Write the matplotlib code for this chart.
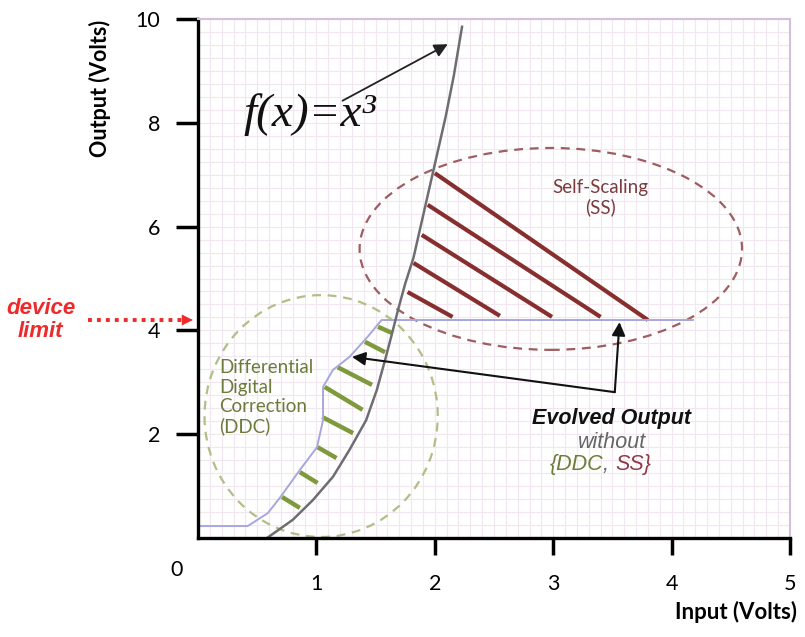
import matplotlib.pyplot as plt
import numpy as np
from matplotlib.patches import Ellipse

# f(x)=x^3 curve as drawn (hand sketched)
curve_x = [0.583, 0.80, 0.97, 1.14, 1.28, 1.42, 1.51, 1.58, 1.64, 1.69, 1.75, 1.82,
           1.88, 1.95, 2.02, 2.09, 2.16, 2.23]
curve_y = [0.0, 0.35, 0.73, 1.18, 1.70, 2.27, 2.85, 3.43, 3.95, 4.40, 4.90, 5.40,
           6.00, 6.70, 7.40, 8.10, 8.90, 9.85]

# evolved output without DDC / SS
evolved_x = [0.0, 0.42, 0.59, 0.69, 0.86, 1.005, 1.056, 1.056, 1.14, 1.28, 1.43, 1.55, 4.18]
evolved_y = [0.23, 0.23, 0.48, 0.77, 1.31, 1.75, 2.27, 2.91, 3.24, 3.49, 3.87, 4.20, 4.20]

device_limit = 4.2

# hatch segments (x0, y0, x1, y1)
ddc_segments = [
    (1.52, 4.07, 1.64, 3.95),
    (1.41, 3.78, 1.58, 3.58),
    (1.18, 3.29, 1.47, 2.95),
    (1.07, 2.91, 1.39, 2.47),
    (1.05, 2.33, 1.31, 2.02),
    (1.01, 1.75, 1.17, 1.54),
    (0.86, 1.27, 1.01, 1.06),
    (0.71, 0.79, 0.86, 0.58),
]
ss_segments = [
    (2.00, 7.03, 3.80, 4.20),
    (1.94, 6.42, 3.40, 4.26),
    (1.89, 5.84, 2.99, 4.26),
    (1.82, 5.30, 2.55, 4.28),
    (1.77, 4.74, 2.15, 4.26),
]

# region outlines: center x, center y, width, height
ss_region = (2.98, 5.57, 3.23, 3.89)
ddc_region = (1.04, 2.35, 1.97, 4.66)

x_ticks = [1, 2, 3, 4, 5]
y_ticks = [2, 4, 6, 8, 10]

green = '#7f9a3c'
brown = '#872f2f'
red = '#ee2a2a'

fig = plt.figure(figsize=(8.05, 6.37), dpi=100)
ax = fig.add_axes([198/805, 1-538/637, (790-198)/805, (538-19)/637])
ax.set_xlim(0, 5)
ax.set_ylim(0, 10)

ax.set_xticks(np.arange(0, 5.01, 0.1), minor=True)
ax.set_yticks(np.arange(0, 10.01, 0.25), minor=True)
ax.grid(which='both', color='#f2e6f0', lw=0.8)
ax.set_axisbelow(True)

ax.set_xticks(x_ticks)
ax.set_yticks(y_ticks)
ax.tick_params(which='minor', length=0)
ax.tick_params(axis='x', which='major', direction='out', length=12, width=2.5, pad=14, labelsize=15.5)
ax.tick_params(axis='y', which='major', direction='out', length=16, width=2.5, pad=11, labelsize=15.5)
for lab in ax.get_xticklabels() + ax.get_yticklabels():
    lab.set_fontfamily('Lato')
for s in ['left', 'bottom']:
    ax.spines[s].set_linewidth(2.4)
for s in ['top', 'right']:
    ax.spines[s].set_color('#d6bede')
    ax.spines[s].set_linewidth(1.5)

# regions
e = Ellipse(ss_region[:2], ss_region[2], ss_region[3], fill=False, ec='#9e5d60', ls=(0, (4, 3)), lw=1.6)
ax.add_patch(e)
c = Ellipse(ddc_region[:2], ddc_region[2], ddc_region[3], fill=False, ec='#b0bf86', ls=(0, (4, 3)), lw=1.6)
ax.add_patch(c)

# hatches
for x0, y0, x1, y1 in ddc_segments:
    ax.plot([x0, x1], [y0, y1], color=green, lw=3.2, solid_capstyle='butt')
for x0, y0, x1, y1 in ss_segments:
    ax.plot([x0, x1], [y0, y1], color=brown, lw=3.0, solid_capstyle='butt')

ax.plot(evolved_x, evolved_y, color='#a7a7dc', lw=1.4)
ax.plot(curve_x, curve_y, color='#6e6e72', lw=1.8, solid_joinstyle='round')

# f(x) label and arrow
ax.text(0.38, 8.15, 'f(x)=x\u00b3', fontfamily='Liberation Serif', style='italic',
        fontsize=34, va='center', ha='left', color='#111111')
ax.annotate('', xy=(2.13, 9.54), xytext=(1.20, 8.40),
            arrowprops=dict(arrowstyle='-|>', color='#222222', lw=1.3, mutation_scale=20))

# evolved output arrows
ax.annotate('', xy=(3.56, 4.16), xytext=(3.52, 2.81),
            arrowprops=dict(arrowstyle='-|>', color='#111111', lw=1.5, mutation_scale=20,
                            shrinkA=0, shrinkB=0))
ax.annotate('', xy=(1.30, 3.49), xytext=(3.52, 2.81),
            arrowprops=dict(arrowstyle='-|>', color='#111111', lw=1.5, mutation_scale=20,
                            shrinkA=0, shrinkB=0))

ax.text(3.49, 2.30, 'Evolved Output', fontfamily='Liberation Sans', weight='bold',
        style='italic', fontsize=15.5, ha='center', va='center', color='#111111')
ax.text(3.50, 1.84, 'without', fontfamily='Liberation Sans', style='italic',
        fontsize=15.5, ha='center', va='center', color='#666666')
t1 = ax.text(3.42, 1.42, '{DDC', fontfamily='Liberation Sans', style='italic',
             fontsize=15.5, ha='right', va='center', color='#6d7d3a')
t2 = ax.annotate(', ', xy=(1, 0), xycoords=t1, ha='left', va='bottom',
                 fontfamily='Liberation Sans', style='italic', fontsize=15.5, color='#666666')
ax.annotate('SS}', xy=(1, 0), xycoords=t2, ha='left', va='bottom',
            fontfamily='Liberation Sans', style='italic', fontsize=15.5, color='#8e3b45')

ax.text(3.40, 6.55, 'Self-Scaling\n(SS)', fontfamily='Lato', fontsize=13.5,
        ha='center', va='center', color='#7a3d3d', linespacing=1.15)
ax.text(0.18, 3.44, 'Differential\nDigital\nCorrection\n(DDC)', fontfamily='Lato',
        fontsize=13.5, ha='left', va='top', color='#6b7b3a', linespacing=1.15)

# device limit
ax.plot([-0.93, -0.10], [device_limit, device_limit], color=red, lw=2.8,
        ls=(0, (1, 1.3)), clip_on=False)
ax.annotate('', xy=(-0.02, device_limit), xytext=(-0.12, device_limit),
            arrowprops=dict(arrowstyle='-|>', color=red, lw=0.5, mutation_scale=18),
            annotation_clip=False)
ax.text(-1.33, device_limit, 'device\nlimit', fontfamily='Liberation Sans', weight='bold',
        style='italic', fontsize=16, color=red, ha='center', va='center', linespacing=1.1)

fig.text(177/805, 1-570/637, '0', fontfamily='Lato', fontsize=15.5, ha='center', va='center')
fig.text(100/805, 1-88/637, 'Output (Volts)', fontfamily='Lato', weight='bold', fontsize=15.5,
         rotation=90, ha='center', va='center')
fig.text(736/805, 1-612/637, 'Input (Volts)', fontfamily='Lato', weight='bold', fontsize=16,
         ha='center', va='center')

fig.savefig('out.png', dpi=100)
